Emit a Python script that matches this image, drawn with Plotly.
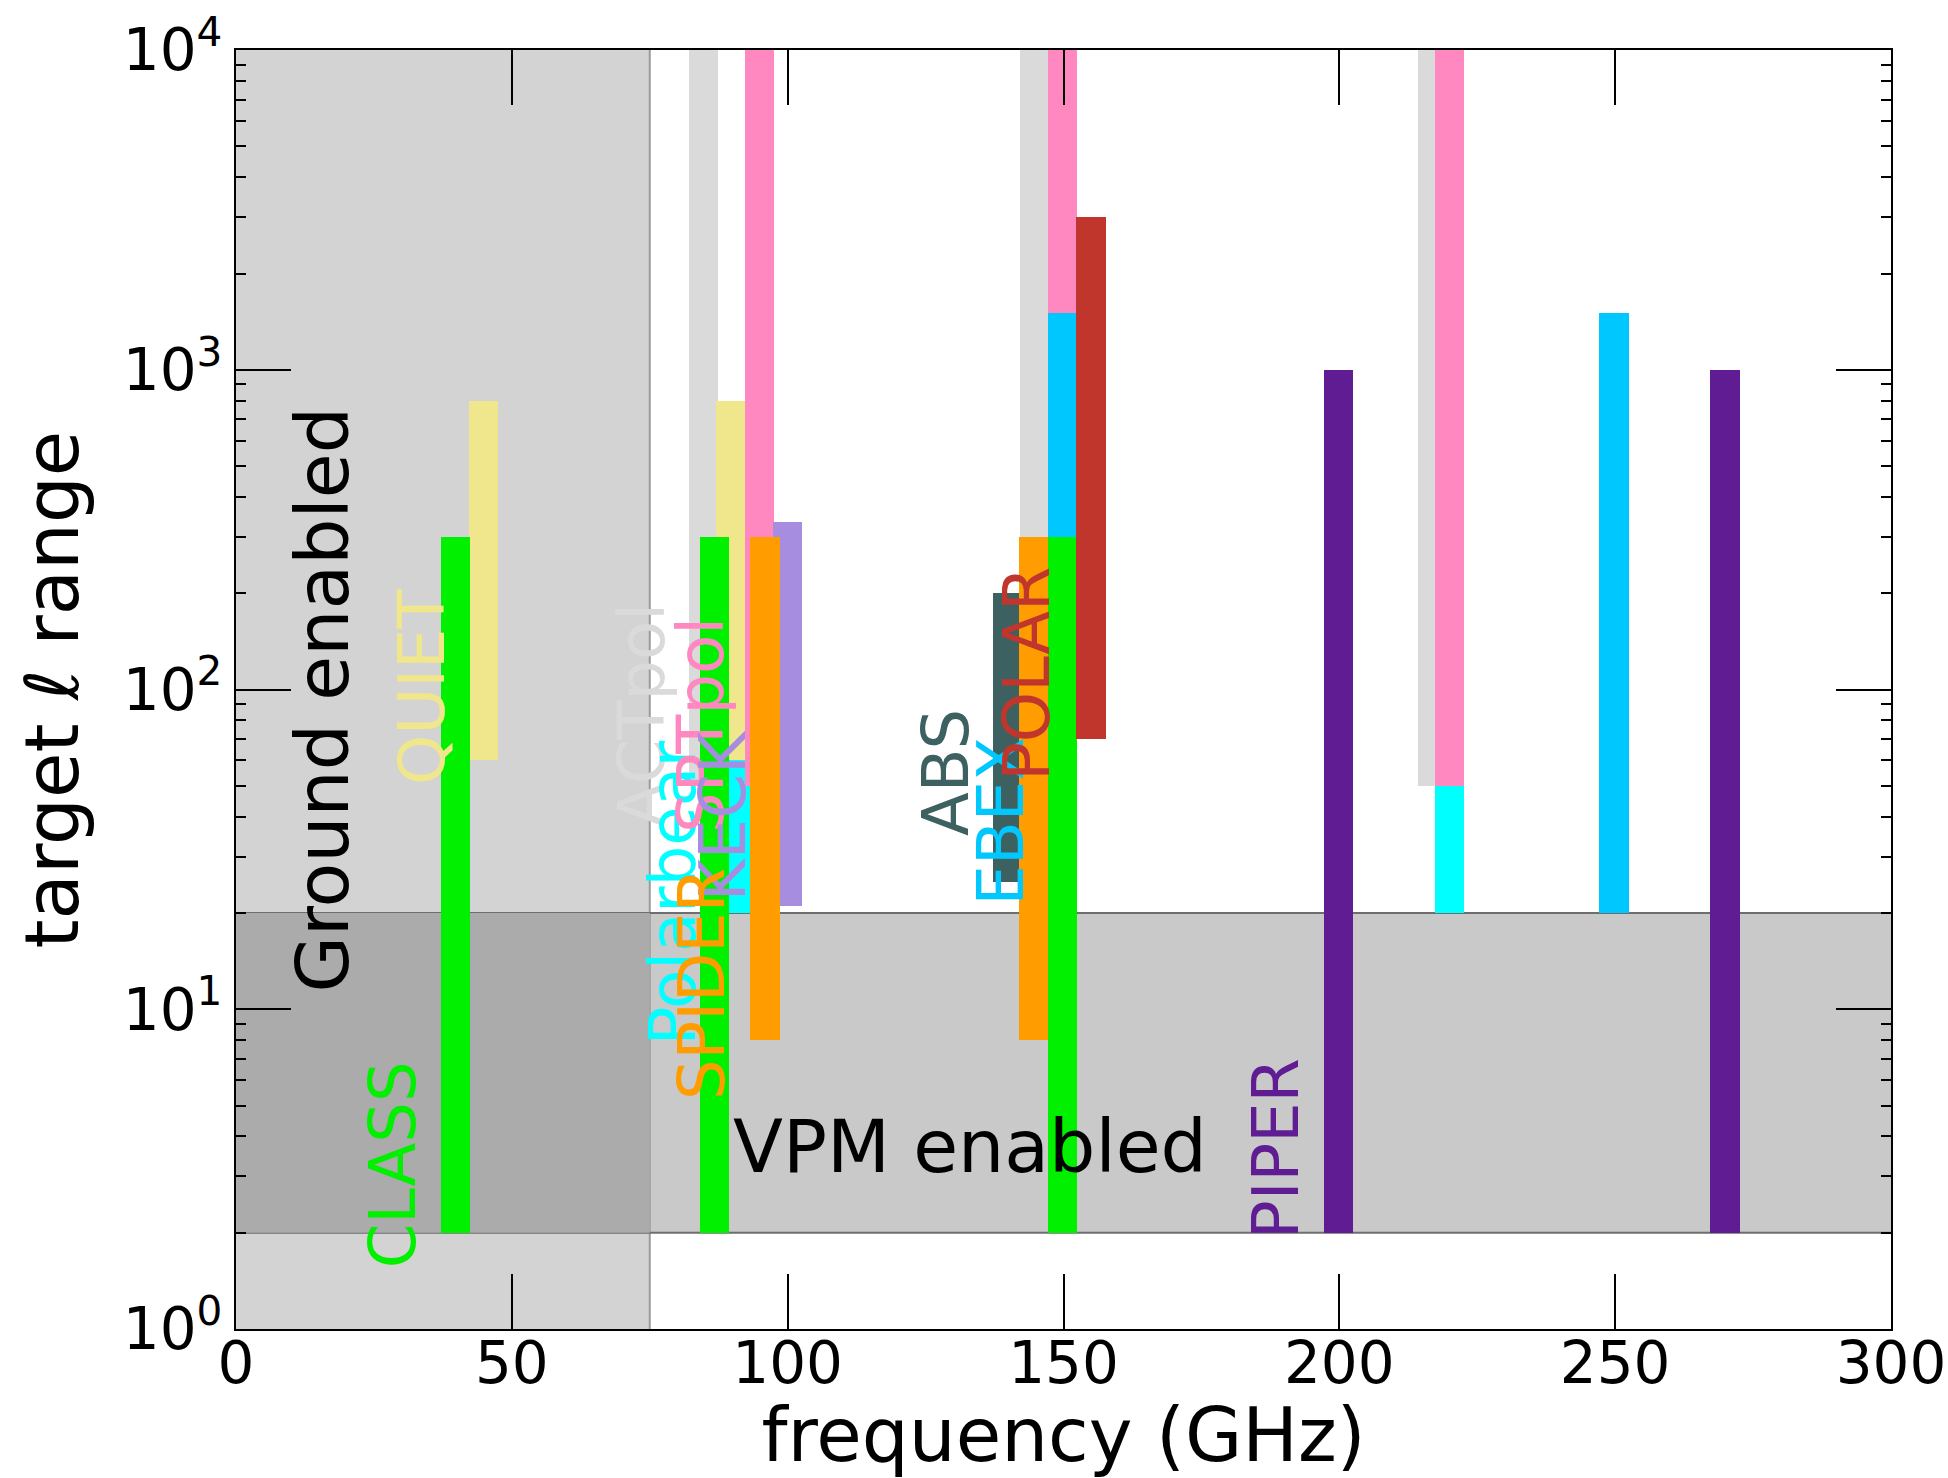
import plotly.graph_objects as go

# ---------------- data ----------------
EXPERIMENTS = ["ACTpol", "Polarbear", "QUIET", "SPTpol", "KECK", "ABS",
               "EBEX", "CLASS", "SPIDER", "POLAR", "PIPER"]

# band centres (GHz) as drawn
ACTPOL_FREQ = [84.7, 144.7, 216.9]
POLARBEAR_FREQ = [90.6, 219.9]
QUIET_FREQ = [44.9, 89.7]
SPTPOL_FREQ = [94.9, 149.8, 219.9]
KECK_FREQ = [100.0]
ABS_FREQ = [139.8]
EBEX_FREQ = [149.8, 249.8]
CLASS_FREQ = [39.8, 86.7, 149.8]
SPIDER_FREQ = [95.9, 144.6]
POLAR_FREQ = [155.0]
PIPER_FREQ = [199.9, 269.9]

# target multipole range (ell_min, ell_max)
ACTPOL_ELL = [50, 10000]
POLARBEAR_ELL = [20, 500]
QUIET_ELL = [60, 800]
SPTPOL_ELL = [50, 10000]
KECK_ELL = [21, 335]
ABS_ELL = [25, 200]
EBEX_ELL = [20, 1500]
CLASS_ELL = [2, 300]
SPIDER_ELL = [8, 300]
POLAR_ELL = [70, 3000]
PIPER_ELL = [2, 1000]

GROUND_MAX_GHZ = 75
VPM_ELL = [2, 20]

X_TICKS = [0, 50, 100, 150, 200, 250, 300]
Y_TICKS = [1, 10, 100, 1000, 10000]
Y_TICK_TEXT = ["10<sup>0</sup>", "10<sup>1</sup>", "10<sup>2</sup>",
               "10<sup>3</sup>", "10<sup>4</sup>"]

# ---------------- styles ----------------
FREQS = {"ACTpol": ACTPOL_FREQ, "Polarbear": POLARBEAR_FREQ, "QUIET": QUIET_FREQ,
         "SPTpol": SPTPOL_FREQ, "KECK": KECK_FREQ, "ABS": ABS_FREQ,
         "EBEX": EBEX_FREQ, "CLASS": CLASS_FREQ, "SPIDER": SPIDER_FREQ,
         "POLAR": POLAR_FREQ, "PIPER": PIPER_FREQ}
ELLS = {"ACTpol": ACTPOL_ELL, "Polarbear": POLARBEAR_ELL, "QUIET": QUIET_ELL,
        "SPTpol": SPTPOL_ELL, "KECK": KECK_ELL, "ABS": ABS_ELL,
        "EBEX": EBEX_ELL, "CLASS": CLASS_ELL, "SPIDER": SPIDER_ELL,
        "POLAR": POLAR_ELL, "PIPER": PIPER_ELL}
COLORS = {"ACTpol": "#dadada", "Polarbear": "#00ffff", "QUIET": "#f0e68c",
          "SPTpol": "#ff88c1", "KECK": "#a68de0", "ABS": "#3d6060",
          "EBEX": "#00c8ff", "CLASS": "#00f000", "SPIDER": "#ff9c00",
          "POLAR": "#c0362c", "PIPER": "#601d93"}
# label centre positions (GHz, log10 ell)
LABEL_POS = {"ACTpol": (73.7, 1.919), "Polarbear": (79.2, 1.366),
             "QUIET": (33.6, 2.009), "SPTpol": (84.4, 1.888),
             "KECK": (88.4, 1.606), "ABS": (128.7, 1.742),
             "EBEX": (138.6, 1.589), "CLASS": (28.4, 0.514),
             "SPIDER": (84.6, 1.078), "POLAR": (143.5, 2.048),
             "PIPER": (188.5, 0.566)}

BAR_WIDTH = 5.3
FONT = "DejaVu Sans"

fig = go.Figure()

for name in EXPERIMENTS:
    f = FREQS[name]
    lo, hi = ELLS[name]
    fig.add_trace(go.Bar(
        x=f, y=[hi - lo] * len(f), base=[lo] * len(f), width=BAR_WIDTH,
        marker=dict(color=COLORS[name], line=dict(width=0)),
        name=name, showlegend=False, hoverinfo="skip"))

# background regions
shapes = [
    dict(type="rect", xref="x", yref="paper", x0=0, x1=GROUND_MAX_GHZ, y0=0, y1=1,
         fillcolor="#d3d3d3", line=dict(width=0), layer="below"),
    dict(type="rect", xref="paper", yref="y", x0=0, x1=1,
         y0=VPM_ELL[0], y1=VPM_ELL[1],
         fillcolor="#c9c9c9", line=dict(width=0), layer="below"),
    dict(type="rect", xref="x", yref="y", x0=0, x1=GROUND_MAX_GHZ,
         y0=VPM_ELL[0], y1=VPM_ELL[1],
         fillcolor="#ababab", line=dict(width=0), layer="below"),
    dict(type="line", xref="x", yref="paper", x0=GROUND_MAX_GHZ, x1=GROUND_MAX_GHZ,
         y0=0, y1=1, line=dict(color="#9a9a9a", width=2), layer="below"),
]
for v in VPM_ELL:
    shapes.append(dict(type="line", xref="paper", yref="y", x0=0, x1=1,
                       y0=v, y1=v, line=dict(color="#6e6e6e", width=2), layer="below"))

annotations = []
for name in EXPERIMENTS:
    x, y = LABEL_POS[name]
    annotations.append(dict(x=x, y=y, xref="x", yref="y", text=name,
                            textangle=-90, showarrow=False,
                            xanchor="center", yanchor="middle",
                            font=dict(family=FONT, size=64, color=COLORS[name])))
annotations.append(dict(x=15.6, y=1.969, xref="x", yref="y", text="Ground enabled",
                        textangle=-90, showarrow=False, xanchor="center", yanchor="middle",
                        font=dict(family=FONT, size=73, color="black")))
annotations.append(dict(x=133.1, y=0.572, xref="x", yref="y", text="VPM enabled",
                        showarrow=False, xanchor="center", yanchor="middle",
                        font=dict(family=FONT, size=73, color="black")))

fig.update_layout(
    width=1948, height=1478,
    margin=dict(l=236, r=57, t=50, b=149, autoexpand=False),
    paper_bgcolor="white", plot_bgcolor="white",
    barmode="overlay", bargap=0,
    font=dict(family=FONT, color="black"),
    shapes=shapes, annotations=annotations,
    xaxis=dict(range=[0, 300], tickvals=X_TICKS, showgrid=False, zeroline=False,
               automargin=False,
               showline=True, linecolor="black", linewidth=2, mirror="ticks",
               ticks="inside", ticklen=55, tickwidth=1.5, tickcolor="black",
               tickfont=dict(family=FONT, size=58), ticklabelstandoff=-18,
               title=dict(text="frequency (GHz)", font=dict(family=FONT, size=74),
                          standoff=12)),
    yaxis=dict(type="log", range=[0, 4], tickvals=Y_TICKS, ticktext=Y_TICK_TEXT,
               showgrid=False, zeroline=False, automargin=False,
               showline=True, linecolor="black", linewidth=2, mirror="ticks",
               ticks="inside", ticklen=55, tickwidth=1.5, tickcolor="black",
               tickfont=dict(family=FONT, size=58),
               minor=dict(ticks="inside", ticklen=10, tickwidth=1.5,
                          tickcolor="black", dtick="D1", showgrid=False),
               title=dict(text="target <i>ℓ</i> range", font=dict(family=FONT, size=74),
                          standoff=20)),
)

fig.write_html("out.html")
